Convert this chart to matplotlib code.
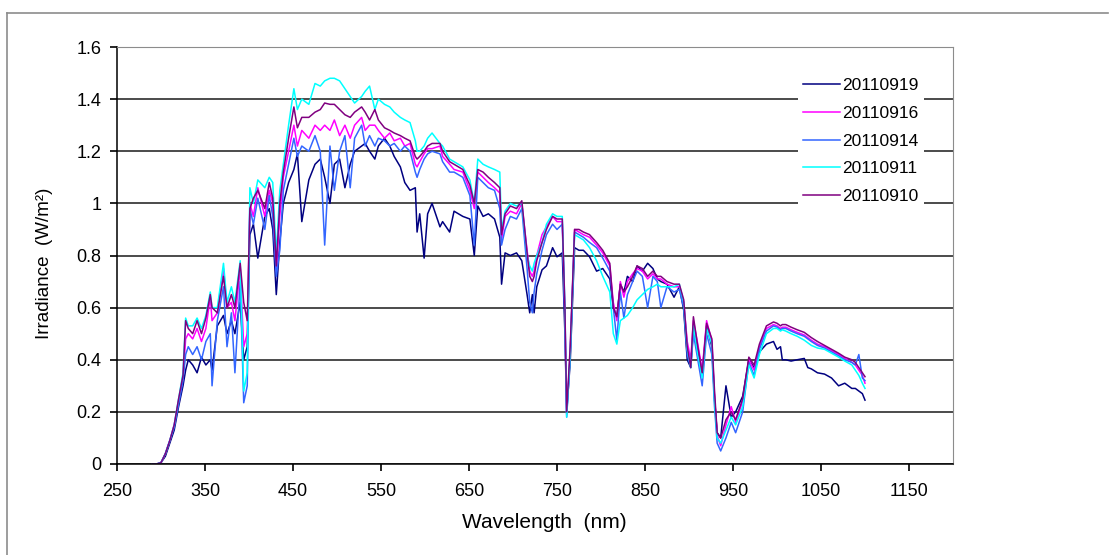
import matplotlib
matplotlib.use('Agg')
import matplotlib.pyplot as plt
from matplotlib.lines import Line2D

# wavelength grid (nm) shared by all five spectra
wavelength = [290, 295, 300, 305, 310, 315, 320, 325, 328, 331,
              336, 341, 346, 351, 356, 358, 364, 371, 375, 380,
              384, 390, 394, 398, 401, 405, 410, 418, 423, 427,
              431, 435, 439, 445, 451, 455, 460, 468, 475, 481,
              486, 492, 497, 503, 509, 515, 520, 528, 532, 537,
              543, 547, 554, 560, 565, 572, 577, 583, 589, 591,
              594, 599, 603, 608, 617, 620, 628, 633, 643, 651,
              656, 660, 666, 672, 679, 685, 687, 691, 697, 704,
              710, 716, 719, 722, 724, 727, 733, 738, 745, 750,
              756, 759, 761, 765, 770, 775, 780, 787, 795, 802,
              810, 814, 818, 822, 826, 830, 836, 841, 847, 853,
              859, 864, 868, 875, 883, 889, 894, 898, 902, 905,
              910, 915, 920, 926, 929, 932, 936, 942, 948, 953,
              961, 968, 974, 980, 988, 996, 1000, 1004, 1006, 1010,
              1016, 1023, 1031, 1035, 1039, 1046, 1054, 1062, 1070, 1077,
              1085, 1089, 1093, 1097, 1100]

irr_20110919 = [0, 0, 0.005, 0.03, 0.08, 0.13, 0.22, 0.30, 0.36, 0.40,
                0.38, 0.35, 0.41, 0.38, 0.40, 0.36, 0.53, 0.57, 0.50, 0.55,
                0.50, 0.62, 0.40, 0.45, 0.88, 0.92, 0.79, 0.95, 0.98, 0.90,
                0.65, 0.85, 1.00, 1.08, 1.13, 1.19, 0.93, 1.09, 1.15, 1.17,
                1.10, 1.00, 1.15, 1.17, 1.06, 1.15, 1.20, 1.22, 1.23, 1.20,
                1.17, 1.22, 1.25, 1.22, 1.18, 1.14, 1.08, 1.05, 1.06, 0.89,
                0.96, 0.79, 0.96, 1.00, 0.91, 0.93, 0.89, 0.97, 0.95, 0.94,
                0.80, 0.99, 0.95, 0.96, 0.94, 0.87, 0.69, 0.81, 0.80, 0.81,
                0.78, 0.65, 0.58, 0.65, 0.58, 0.68, 0.745, 0.76, 0.83, 0.795,
                0.81, 0.50, 0.20, 0.39, 0.83, 0.82, 0.82, 0.795, 0.74, 0.75,
                0.71, 0.60, 0.565, 0.69, 0.66, 0.72, 0.70, 0.76, 0.74, 0.77,
                0.75, 0.71, 0.70, 0.69, 0.64, 0.68, 0.59, 0.40, 0.37, 0.52,
                0.43, 0.34, 0.53, 0.45, 0.25, 0.12, 0.10, 0.30, 0.18, 0.20,
                0.26, 0.40, 0.37, 0.43, 0.46, 0.47, 0.44, 0.45, 0.40, 0.40,
                0.395, 0.40, 0.405, 0.37, 0.365, 0.35, 0.345, 0.33, 0.30, 0.31,
                0.29, 0.29, 0.28, 0.27, 0.245]

irr_20110916 = [0, 0, 0.005, 0.04, 0.09, 0.15, 0.24, 0.33, 0.48, 0.50,
                0.48, 0.52, 0.47, 0.52, 0.64, 0.55, 0.58, 0.75, 0.60, 0.62,
                0.55, 0.75, 0.45, 0.50, 1.00, 0.95, 1.06, 0.95, 1.05, 1.00,
                0.74, 0.95, 1.10, 1.20, 1.30, 1.22, 1.28, 1.25, 1.30, 1.28,
                1.30, 1.28, 1.32, 1.26, 1.30, 1.25, 1.30, 1.33, 1.28, 1.30,
                1.30, 1.28, 1.25, 1.27, 1.24, 1.25, 1.22, 1.23, 1.15, 1.14,
                1.16, 1.19, 1.21, 1.21, 1.22, 1.18, 1.15, 1.13, 1.12, 1.05,
                0.98, 1.12, 1.10, 1.08, 1.06, 1.04, 0.86, 0.95, 0.97, 0.96,
                1.00, 0.82, 0.74, 0.72, 0.74, 0.80, 0.88, 0.91, 0.95, 0.93,
                0.93, 0.58, 0.19, 0.43, 0.90, 0.89, 0.88, 0.87, 0.84, 0.81,
                0.76, 0.62, 0.55, 0.70, 0.64, 0.70, 0.73, 0.75, 0.74, 0.71,
                0.73, 0.71, 0.71, 0.69, 0.68, 0.68, 0.62, 0.47, 0.40, 0.55,
                0.46, 0.36, 0.55, 0.47, 0.26, 0.11, 0.07, 0.15, 0.22, 0.16,
                0.24, 0.40, 0.36, 0.45, 0.52, 0.535, 0.53, 0.52, 0.525, 0.525,
                0.515, 0.505, 0.495, 0.485, 0.475, 0.46, 0.45, 0.435, 0.42, 0.405,
                0.39, 0.38, 0.36, 0.34, 0.31]

irr_20110914 = [0, 0, 0.005, 0.04, 0.09, 0.14, 0.23, 0.32, 0.42, 0.45,
                0.42, 0.45, 0.40, 0.47, 0.50, 0.30, 0.55, 0.68, 0.45, 0.58,
                0.35, 0.70, 0.235, 0.30, 0.98, 0.92, 1.02, 0.90, 1.03, 0.95,
                0.72, 0.82, 1.05, 1.15, 1.25, 1.18, 1.22, 1.20, 1.26, 1.20,
                0.84, 1.22, 1.05, 1.20, 1.26, 1.06, 1.25, 1.30, 1.22, 1.26,
                1.22, 1.25, 1.24, 1.22, 1.23, 1.20, 1.22, 1.20, 1.12, 1.10,
                1.13, 1.17, 1.19, 1.20, 1.19, 1.16, 1.12, 1.12, 1.10, 1.03,
                0.84, 1.10, 1.08, 1.06, 1.05, 0.98, 0.84, 0.90, 0.95, 0.94,
                0.98, 0.75, 0.62, 0.58, 0.66, 0.73, 0.82, 0.88, 0.92, 0.90,
                0.92, 0.55, 0.18, 0.42, 0.89, 0.88, 0.87, 0.85, 0.83, 0.79,
                0.74, 0.60, 0.475, 0.66, 0.56, 0.65, 0.70, 0.74, 0.72, 0.60,
                0.72, 0.70, 0.60, 0.68, 0.66, 0.67, 0.60, 0.42, 0.37, 0.50,
                0.40, 0.30, 0.50, 0.42, 0.22, 0.08, 0.05, 0.10, 0.16, 0.12,
                0.20, 0.39, 0.34, 0.44, 0.51, 0.53, 0.525, 0.515, 0.52, 0.52,
                0.51, 0.50, 0.49, 0.48, 0.47, 0.455, 0.445, 0.43, 0.415, 0.40,
                0.39, 0.38, 0.42, 0.33, 0.32]

irr_20110911 = [0, 0, 0.005, 0.04, 0.09, 0.15, 0.25, 0.35, 0.56, 0.53,
                0.53, 0.56, 0.52, 0.57, 0.66, 0.60, 0.60, 0.77, 0.62, 0.68,
                0.62, 0.78, 0.28, 0.35, 1.06, 1.00, 1.09, 1.06, 1.10, 1.08,
                0.80, 1.05, 1.15, 1.30, 1.44, 1.36, 1.40, 1.38, 1.46, 1.45,
                1.47, 1.48, 1.48, 1.47, 1.44, 1.41, 1.385, 1.41, 1.43, 1.45,
                1.36, 1.40, 1.38, 1.37, 1.35, 1.33, 1.32, 1.31, 1.24, 1.20,
                1.20, 1.22, 1.25, 1.27, 1.23, 1.22, 1.17, 1.16, 1.14, 1.09,
                1.00, 1.17, 1.15, 1.14, 1.13, 1.12, 0.90, 0.97, 1.00, 0.99,
                1.00, 0.80, 0.76, 0.74, 0.77, 0.80, 0.85, 0.92, 0.96, 0.95,
                0.95, 0.60, 0.18, 0.42, 0.88, 0.87, 0.86, 0.83, 0.78, 0.72,
                0.66, 0.50, 0.46, 0.55, 0.56, 0.57, 0.60, 0.63, 0.65, 0.67,
                0.68, 0.69, 0.68, 0.68, 0.68, 0.69, 0.62, 0.44, 0.37, 0.53,
                0.42, 0.33, 0.52, 0.46, 0.24, 0.10, 0.08, 0.13, 0.18, 0.15,
                0.22, 0.38, 0.33, 0.42, 0.50, 0.52, 0.52, 0.51, 0.515, 0.51,
                0.50, 0.49, 0.475, 0.465, 0.455, 0.445, 0.44, 0.425, 0.41, 0.395,
                0.38, 0.36, 0.34, 0.31, 0.29]

irr_20110910 = [0, 0, 0.005, 0.04, 0.09, 0.15, 0.25, 0.34, 0.55, 0.52,
                0.50, 0.55, 0.50, 0.56, 0.65, 0.60, 0.58, 0.72, 0.60, 0.65,
                0.60, 0.77, 0.62, 0.55, 0.98, 1.02, 1.05, 0.98, 1.08, 1.02,
                0.76, 1.00, 1.12, 1.25, 1.37, 1.29, 1.33, 1.33, 1.35, 1.36,
                1.385, 1.38, 1.38, 1.36, 1.34, 1.33, 1.35, 1.37, 1.35, 1.32,
                1.36, 1.32, 1.29, 1.28, 1.27, 1.26, 1.25, 1.24, 1.18, 1.17,
                1.18, 1.20, 1.22, 1.23, 1.23, 1.20, 1.16, 1.15, 1.13, 1.07,
                1.00, 1.13, 1.12, 1.10, 1.08, 1.06, 0.88, 0.96, 0.99, 0.98,
                1.01, 0.81, 0.72, 0.70, 0.72, 0.78, 0.85, 0.90, 0.95, 0.94,
                0.94, 0.60, 0.20, 0.45, 0.90, 0.90, 0.89, 0.88, 0.85, 0.82,
                0.77, 0.60, 0.565, 0.69, 0.66, 0.68, 0.72, 0.76, 0.75, 0.72,
                0.74, 0.72, 0.72, 0.70, 0.69, 0.69, 0.63, 0.45, 0.37, 0.565,
                0.45, 0.35, 0.54, 0.48, 0.28, 0.12, 0.10, 0.17, 0.20, 0.17,
                0.25, 0.41, 0.38, 0.46, 0.53, 0.545, 0.54, 0.53, 0.535, 0.535,
                0.525, 0.515, 0.505, 0.495, 0.485, 0.47, 0.455, 0.44, 0.425, 0.41,
                0.40, 0.39, 0.37, 0.35, 0.335]

labels = ['20110919', '20110916', '20110914', '20110911', '20110910']
colors = ['#000080', '#FF00FF', '#3366FF', '#00FFFF', '#800080']
spectra = [irr_20110919, irr_20110916, irr_20110914, irr_20110911, irr_20110910]

xticks = [250, 350, 450, 550, 650, 750, 850, 950, 1050, 1150]
yticks = [0, 0.2, 0.4, 0.6, 0.8, 1.0, 1.2, 1.4, 1.6]
ytick_labels = ['0', '0.2', '0.4', '0.6', '0.8', '1', '1.2', '1.4', '1.6']

plt.rcParams['font.family'] = ['Liberation Sans', 'DejaVu Sans']

W, H = 1115, 555
fig = plt.figure(figsize=(W / 100, H / 100), dpi=100)
ax = fig.add_axes([117 / W, (H - 464) / H, (953 - 117) / W, (464 - 47) / H])

for lab, col, vals in zip(labels, colors, spectra):
    ax.plot(wavelength, vals, color=col, lw=1.1, label=lab)

ax.set_xlim(250, 1200)
ax.set_ylim(0, 1.6)
ax.set_xticks(xticks)
ax.set_xticklabels([str(t) for t in xticks], fontsize=13)
ax.set_yticks(yticks)
ax.set_yticklabels(ytick_labels, fontsize=13)
ax.tick_params(axis='both', direction='out', length=5, width=1.2, color='black')
ax.tick_params(axis='x', pad=9)
ax.tick_params(axis='y', pad=6)

ax.yaxis.grid(True, color='#1a1a1a', lw=1.1)
ax.set_axisbelow(True)

ax.spines['left'].set_color('black')
ax.spines['bottom'].set_color('black')
ax.spines['left'].set_linewidth(1.1)
ax.spines['bottom'].set_linewidth(1.1)
ax.spines['top'].set_color('#8c8c8c')
ax.spines['right'].set_color('#8c8c8c')

# axis titles placed where the reference has them
fig.text(544 / W, 1 - 523 / H, 'Wavelength  (nm)', fontsize=15, ha='center', va='center')
fig.text(45 / W, 1 - 263 / H, 'Irradiance  (W/m²)', fontsize=13.5, rotation=90,
         ha='center', va='center')

leg = ax.legend(loc='center left', bbox_to_anchor=(798 / W, 1 - 141 / H),
                bbox_transform=fig.transFigure, fontsize=12.5, frameon=True,
                fancybox=False, framealpha=1, facecolor='white', edgecolor='none',
                handlelength=2.1, handletextpad=0.15, labelspacing=0.72,
                borderpad=0.3, borderaxespad=0)

# outer chart border (left and top)
fig.add_artist(Line2D([7 / W, 7 / W], [0, 1 - 13 / H], transform=fig.transFigure,
                      color='#8c8c8c', lw=1.2))
fig.add_artist(Line2D([7 / W, 1108 / W], [1 - 13 / H, 1 - 13 / H], transform=fig.transFigure,
                      color='#8c8c8c', lw=1.2))

fig.savefig('out.png', dpi=100)
